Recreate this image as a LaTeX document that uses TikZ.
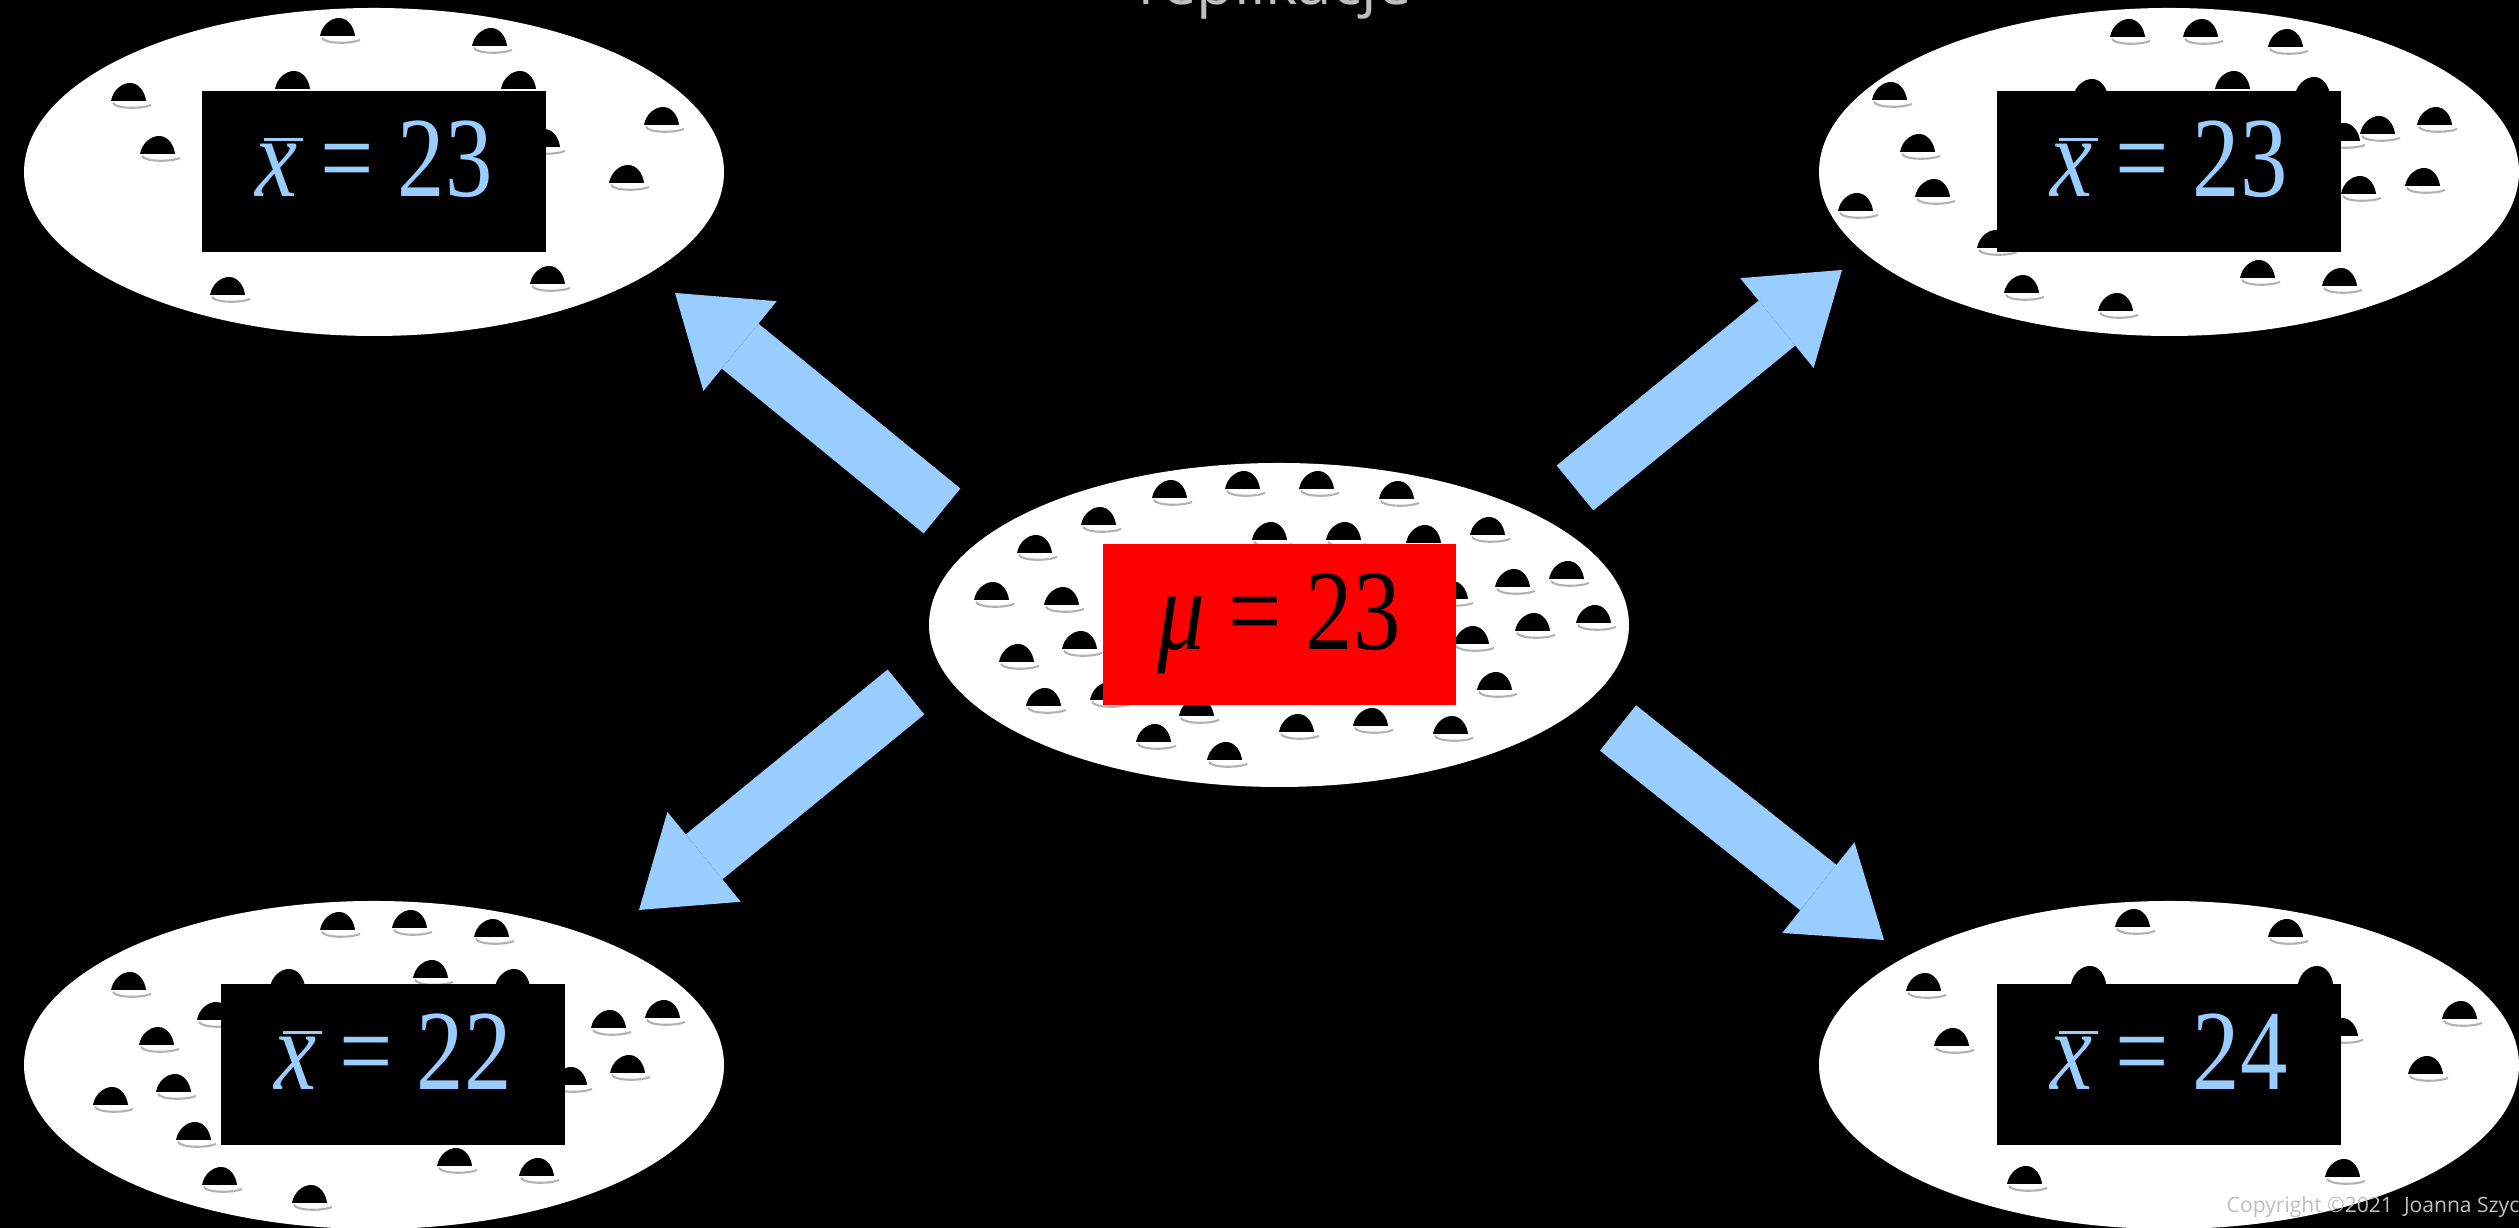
\documentclass[tikz,border=0pt]{standalone}
\usepackage{fontspec}
\setmainfont{Liberation Serif}
\newfontfamily\slidefont{Open Sans}
\usetikzlibrary{arrows.meta,shapes.geometric}
\definecolor{Sky}{HTML}{99CCFF}
\definecolor{Alarm}{HTML}{FF0000}
\definecolor{Ash}{HTML}{BFBFBF}
\newcommand\sampmean{\rlap{\kern0.09em\rule[0.49em]{0.42em}{0.025em}}\textit{x}}
\newcommand\eqn[1]{\scalebox{0.83}[1]{#1}}
\tikzset{
  dish/.style={
    ellipse, fill=white, inner sep=0pt,
    minimum width=7cm, minimum height=3.28cm
  },
  meanbox/.style={
    fill=black, text=Sky, inner sep=0pt,
    minimum width=3.44cm, minimum height=1.61cm,
    text height=0.78cm, text depth=0.29cm,
    font=\fontsize{32.5}{38}\selectfont
  },
  popbox/.style={meanbox, fill=Alarm, text=black, minimum width=3.53cm},
  spread/.style={
    line width=0.58cm, draw=Sky,
    -{Triangle[width=1.16cm,length=0.84cm,line width=0pt]}
  },
  mouse/.pic={
    \fill[black] (-0.19,-0.01) .. controls (-0.17,0.10) and (-0.08,0.17) .. (0,0.17)
      .. controls (0.09,0.17) and (0.15,0.08) .. (0.16,-0.01) -- cycle;
    \draw[gray!60,line width=0.6pt] (-0.17,-0.03) .. controls (-0.14,-0.09) and (0.12,-0.09) .. (0.21,-0.05);
  }
}

\begin{document}
\begin{tikzpicture}
  \useasboundingbox (0,0) rectangle (25.19,12.28);
  \fill[black] (0,0) rectangle (25.19,12.28);

  \node[dish,minimum height=3.24cm] (pop) at (12.79,6.03) {};
  \node[dish] (s1) at (3.74,10.56) {};
  \node[dish] (s2) at (21.69,10.56) {};
  \node[dish] (s3) at (3.74,1.63) {};
  \node[dish] (s4) at (21.69,1.63) {};

  \begin{scope}[shift={(pop)}]
    \foreach \x/\y in {-1.08/1.28,-0.35/1.37,0.39/1.37,1.19/1.27,-1.79/1.01,-2.43/0.73,
        -0.08/0.86,0.66/0.86,2.10/0.91,1.46/0.83,-2.86/0.26,-2.16/0.21,2.35/0.39,
        2.89/0.47,1.73/0.27,2.55/-0.05,3.16/0.03,1.94/-0.18,-1.98/-0.23,-2.61/-0.36,
        2.17/-0.64,-2.34/-0.80,-1.70/-0.74,-0.81/-0.90,-1.24/-1.16,0.19/-1.06,
        0.93/-1.00,1.73/-1.08,-0.53/-1.34}
      \pic at (\x,\y) {mouse};
  \end{scope}
  \begin{scope}[shift={(s1)}]
    \foreach \x/\y in {-2.44/0.72,-2.15/0.19,-0.80/0.84,1.46/0.84,1.70/0.26,2.89/0.48,
        2.54/-0.10,-1.45/-1.22,1.75/-1.11,-0.35/1.37,1.17/1.27}
      \pic at (\x,\y) {mouse};
  \end{scope}
  \begin{scope}[shift={(s2)}]
    \foreach \x/\y in {-0.40/1.36,0.33/1.36,1.18/1.26,-2.78/0.73,-0.77/0.76,0.65/0.84,
        1.45/0.78,-2.50/0.21,-3.12/-0.38,-2.35/-0.24,2.10/0.39,2.67/0.48,1.75/0.32,
        1.91/-0.21,2.55/-0.13,-1.73/-0.75,-1.46/-1.20,-0.52/-1.38,0.90/-1.05,1.72/-1.13}
      \pic at (\x,\y) {mouse};
  \end{scope}
  \begin{scope}[shift={(s3)}]
    \foreach \x/\y in {-0.35/1.36,0.37/1.38,1.19/1.29,-2.44/0.76,-0.85/0.79,0.58/0.88,
        1.40/0.79,-1.58/0.46,-2.16/0.21,-2.62/-0.39,-1.99/-0.26,2.36/0.38,2.90/0.48,
        2.55/-0.07,1.97/-0.19,-1.79/-0.74,-1.53/-1.19,-0.63/-1.37,0.82/-1.00,1.64/-1.10}
      \pic at (\x,\y) {mouse};
  \end{scope}
  \begin{scope}[shift={(s4)}]
    \foreach \x/\y in {-0.35/1.39,1.18/1.29,-2.44/0.75,-0.79/0.82,1.48/0.82,-2.16/0.20,
        1.73/0.30,2.92/0.47,2.58/-0.08,-1.43/-1.18,1.75/-1.11}
      \pic at (\x,\y) {mouse};
  \end{scope}

  \node[popbox] (mu) at (pop) {\eqn{\textit{μ} = 23}};
  \node[meanbox] (m1) at (s1) {\eqn{\sampmean{} = 23}};
  \node[meanbox] (m2) at (s2) {\eqn{\sampmean{} = 23}};
  \node[meanbox] (m3) at ([xshift=0.19cm]s3) {\eqn{\sampmean{} = 22}};
  \node[meanbox] (m4) at (s4) {\eqn{\sampmean{} = 24}};

  \coordinate (t1) at (9.42,7.17);  \coordinate (h1) at (6.75,9.35);
  \coordinate (t2) at (15.75,7.40); \coordinate (h2) at (18.42,9.58);
  \coordinate (t3) at (9.06,5.36);  \coordinate (h3) at (6.39,3.18);
  \coordinate (t4) at (16.18,5.00); \coordinate (h4) at (18.84,2.88);
  \foreach \i in {1,...,4}
    \draw[spread] (t\i) -- (h\i);

  \node[anchor=base,text=Ash,font=\slidefont\fontsize{17.5}{21}\selectfont] (title) at (12.75,12.23) {replikacje};
  \node[anchor=base west,inner sep=0pt,text=Ash,font=\slidefont\fontsize{6}{7}\selectfont] (copy) at (22.26,0.15) {Copyright ©2021\ \ Joanna Szyc};
\end{tikzpicture}
\end{document}
